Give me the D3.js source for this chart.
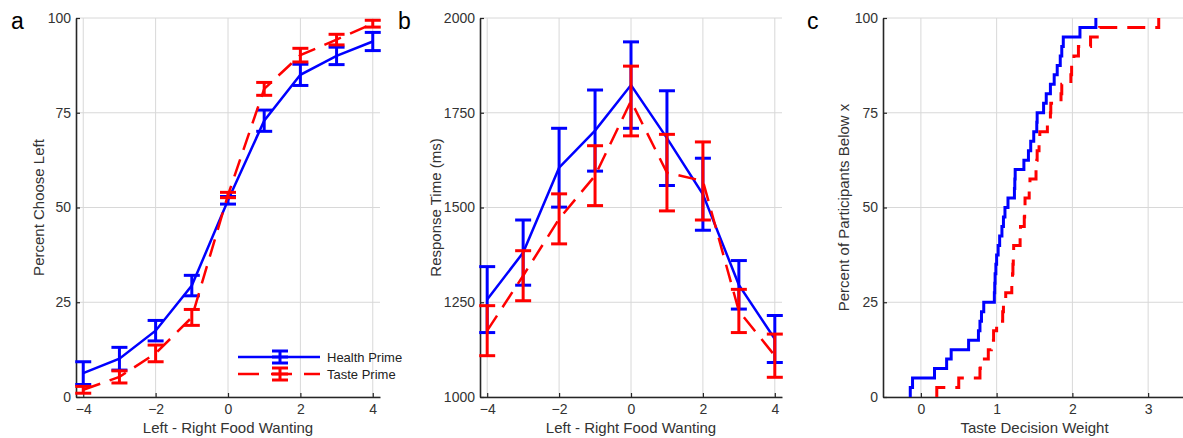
<!DOCTYPE html>
<html>
<head>
<meta charset="utf-8">
<script src="https://cdn.jsdelivr.net/npm/d3@7"></script>
<style>
  body { margin: 0; background: #fff; }
  svg { display: block; font-family: "Liberation Sans", Arial, sans-serif; }
</style>
</head>
<body>
<div id="chart"></div>
<script>
// panel a / b: x categories
const wanting = [-4, -3, -2, -1, 0, 1, 2, 3, 4];

// panel a: percent choose left (mean, s.e.)
const healthChoose = [6.3, 10.1, 17.5, 29.4, 51.9, 72.9, 85.0, 90.0, 93.8];
const healthChooseErr = [3.0, 3.0, 2.7, 2.7, 1.0, 2.8, 2.8, 2.3, 2.4];
const tasteChoose = [1.9, 5.3, 11.5, 21.0, 53.3, 81.3, 90.2, 94.3, 98.5];
const tasteChooseErr = [0.9, 1.6, 2.2, 2.1, 0.7, 1.7, 1.8, 1.4, 0.9];

// panel b: response time in ms (mean, s.e.)
const healthRT = [1257, 1381, 1605, 1703, 1823, 1683, 1535, 1296, 1153];
const healthRTErr = [87, 86, 104, 107, 114, 125, 95, 64, 62];
const tasteRT = [1175, 1320, 1470, 1584, 1781, 1592, 1570, 1227, 1109];
const tasteRTErr = [66, 66, 66, 79, 92, 101, 103, 57, 57];

// panel c: taste decision weight per participant (sorted)
const healthWeights = [-0.14, -0.11, 0.18, 0.34, 0.40, 0.63, 0.76, 0.78, 0.80, 0.83,
  0.97, 0.975, 0.98, 0.99, 1.00, 1.02, 1.04, 1.07, 1.09, 1.11,
  1.15, 1.235, 1.24, 1.245, 1.36, 1.42, 1.45, 1.49, 1.53, 1.535,
  1.62, 1.655, 1.71, 1.76, 1.80, 1.84, 1.86, 1.88, 2.10, 2.31];
const tasteWeights = [0.21, 0.50, 0.78, 0.785, 0.89, 0.93, 0.96, 1.00, 1.08, 1.09,
  1.12, 1.20, 1.21, 1.215, 1.22, 1.225, 1.31, 1.315, 1.365, 1.37,
  1.375, 1.43, 1.44, 1.52, 1.53, 1.535, 1.56, 1.57, 1.67, 1.71,
  1.715, 1.85, 1.86, 1.98, 1.99, 2.02, 2.08, 2.24, 2.36, 3.14];

const aTicksX = [-4, -2, 0, 2, 4];
const aTicksY = [0, 25, 50, 75, 100];
const bTicksY = [1000, 1250, 1500, 1750, 2000];
const cTicksX = [0, 1, 2, 3];

const width = 1183;
const height = 438;
const plotTop = 18, plotBottom = 397;
const blue = "#0000ff", red = "#ff0000";
const dash = "18,10";

const svg = d3.select("#chart").append("svg")
    .attr("width", width)
    .attr("height", height);

function panel(opts) {
    const x = d3.scaleLinear().domain(opts.xDomain).range(opts.xRange);
    const y = d3.scaleLinear().domain(opts.yDomain).range([plotBottom, plotTop]);
    const g = svg.append("g");

    // grid
    g.append("g").selectAll("line").data(opts.xTicks).join("line")
        .attr("x1", d => x(d)).attr("x2", d => x(d))
        .attr("y1", plotTop).attr("y2", plotBottom)
        .attr("stroke", "#d8d8d8").attr("stroke-width", 1);
    g.append("g").selectAll("line").data(opts.yTicks).join("line")
        .attr("x1", opts.xRange[0]).attr("x2", opts.xRange[1])
        .attr("y1", d => y(d)).attr("y2", d => y(d))
        .attr("stroke", "#d8d8d8").attr("stroke-width", 1);

    const fmt = d3.format("d");
    const xAxis = g.append("g")
        .attr("transform", `translate(0,${plotBottom})`)
        .call(d3.axisBottom(x).tickValues(opts.xTicks).tickFormat(fmt)
            .tickSize(-4).tickSizeOuter(0).tickPadding(7));
    const yAxis = g.append("g")
        .attr("transform", `translate(${opts.xRange[0]},0)`)
        .call(d3.axisLeft(y).tickValues(opts.yTicks).tickFormat(fmt)
            .tickSize(-4).tickSizeOuter(0).tickPadding(5));
    [xAxis, yAxis].forEach(ax => {
        ax.select(".domain").attr("stroke", "#262626").attr("stroke-width", 1.6);
        ax.selectAll(".tick line").attr("stroke", "#262626").attr("stroke-width", 1.2);
        ax.selectAll(".tick text").attr("fill", "#333").style("font-size", "14px");
    });

    // labels
    g.append("text")
        .attr("x", (opts.xRange[0] + opts.xRange[1]) / 2)
        .attr("y", 433)
        .attr("text-anchor", "middle")
        .attr("fill", "#333")
        .style("font-size", "15px")
        .text(opts.xLabel);
    g.append("text")
        .attr("transform", `translate(${opts.yLabelX},${(plotTop + plotBottom) / 2}) rotate(-90)`)
        .attr("text-anchor", "middle")
        .attr("fill", "#333")
        .style("font-size", "15px")
        .text(opts.yLabel);
    g.append("text")
        .attr("x", opts.letterX)
        .attr("y", 29)
        .attr("fill", "#000")
        .style("font-size", "23px")
        .text(opts.letter);

    return {g, x, y};
}

function errorSeries(p, means, errs, color, dashed) {
    const data = wanting.map((w, i) => ({w, m: means[i], e: errs[i]}));
    const line = d3.line().x(d => p.x(d.w)).y(d => p.y(d.m));
    p.g.append("path")
        .datum(data)
        .attr("fill", "none")
        .attr("stroke", color)
        .attr("stroke-width", 2.5)
        .attr("stroke-dasharray", dashed ? dash : null)
        .attr("d", line);
    const bars = p.g.append("g").attr("stroke", color).attr("stroke-width", 3);
    bars.selectAll(".v").data(data).join("line")
        .attr("x1", d => p.x(d.w)).attr("x2", d => p.x(d.w))
        .attr("y1", d => p.y(d.m - d.e)).attr("y2", d => p.y(d.m + d.e));
    bars.selectAll(".lo").data(data).join("line")
        .attr("x1", d => p.x(d.w) - 8).attr("x2", d => p.x(d.w) + 8)
        .attr("y1", d => p.y(d.m - d.e)).attr("y2", d => p.y(d.m - d.e));
    bars.selectAll(".hi").data(data).join("line")
        .attr("x1", d => p.x(d.w) - 8).attr("x2", d => p.x(d.w) + 8)
        .attr("y1", d => p.y(d.m + d.e)).attr("y2", d => p.y(d.m + d.e));
}

// ---- panel a
const pa = panel({
    xDomain: [-4.2, 4.2], xRange: [76, 380], yDomain: [0, 100],
    xTicks: aTicksX, yTicks: aTicksY,
    xLabel: "Left - Right Food Wanting",
    yLabel: "Percent Choose Left", yLabelX: 44,
    letter: "a", letterX: 11
});
errorSeries(pa, healthChoose, healthChooseErr, blue, false);
errorSeries(pa, tasteChoose, tasteChooseErr, red, true);

// legend
const legend = pa.g.append("g");
[["Health Prime", blue, false, 357], ["Taste Prime", red, true, 374]].forEach(([name, color, dashed, ly]) => {
    legend.append("line")
        .attr("x1", 238).attr("x2", 320).attr("y1", ly).attr("y2", ly)
        .attr("stroke", color).attr("stroke-width", 2.5)
        .attr("stroke-dasharray", dashed ? "21,12" : null);
    const s = legend.append("g").attr("stroke", color).attr("stroke-width", 3);
    s.append("line").attr("x1", 280).attr("x2", 280).attr("y1", ly - 6).attr("y2", ly + 6);
    s.append("line").attr("x1", 272).attr("x2", 288).attr("y1", ly - 6).attr("y2", ly - 6);
    s.append("line").attr("x1", 272).attr("x2", 288).attr("y1", ly + 6).attr("y2", ly + 6);
    s.append("line").attr("x1", 272).attr("x2", 288).attr("y1", ly).attr("y2", ly);
    legend.append("text")
        .attr("x", 327).attr("y", ly + 4.5)
        .attr("fill", "#222")
        .style("font-size", "13px")
        .text(name);
});

// ---- panel b
const pb = panel({
    xDomain: [-4.2, 4.2], xRange: [480, 782], yDomain: [1000, 2000],
    xTicks: aTicksX, yTicks: bTicksY,
    xLabel: "Left - Right Food Wanting",
    yLabel: "Response Time (ms)", yLabelX: 441,
    letter: "b", letterX: 398
});
errorSeries(pb, healthRT, healthRTErr, blue, false);
errorSeries(pb, tasteRT, tasteRTErr, red, true);

// ---- panel c
const pc = panel({
    xDomain: [-0.5, 3.5], xRange: [883, 1186], yDomain: [0, 100],
    xTicks: cTicksX, yTicks: aTicksY,
    xLabel: "Taste Decision Weight",
    yLabel: "Percent of Participants Below x", yLabelX: 849,
    letter: "c", letterX: 807
});

function ecdf(values) {
    const n = values.length;
    const pts = [[values[0], 0]];
    values.forEach((v, i) => pts.push([v, (i + 1) / n * 100]));
    return pts;
}
const stair = d3.line().x(d => pc.x(d[0])).y(d => pc.y(d[1])).curve(d3.curveStepAfter);
pc.g.append("path")
    .datum(ecdf(healthWeights))
    .attr("fill", "none").attr("stroke", blue).attr("stroke-width", 3)
    .attr("d", stair);
pc.g.append("path")
    .datum(ecdf(tasteWeights))
    .attr("fill", "none").attr("stroke", red).attr("stroke-width", 3)
    .attr("stroke-dasharray", dash)
    .attr("d", stair);
</script>
</body>
</html>
